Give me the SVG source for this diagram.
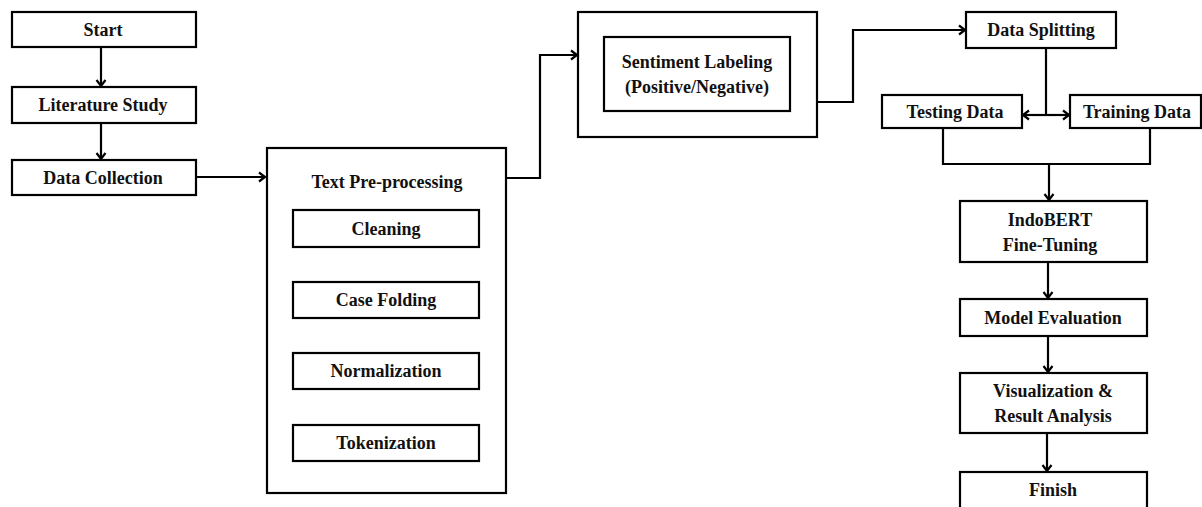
<svg xmlns="http://www.w3.org/2000/svg" width="1202" height="507" viewBox="0 0 1202 507">
<defs>
<marker id="ah" markerUnits="userSpaceOnUse" markerWidth="12" markerHeight="12" refX="9" refY="6" orient="auto">
<path d="M3,1.5 L9,6 L3,10.5" fill="none" stroke="#000" stroke-width="2.2"/>
</marker>
<style>
rect{fill:#fff;stroke:#000;stroke-width:2.2}
text{font-family:"Liberation Serif","Times New Roman",serif;font-weight:bold;font-size:18px;fill:#111;text-anchor:middle}
.c{fill:none;stroke:#000;stroke-width:2.2}
</style>
</defs>
<rect x="0" y="0" width="1202" height="507" style="stroke:none"/>
<g id="connectors">
<path class="c" d="M101,47 V86" marker-end="url(#ah)"/>
<path class="c" d="M101,123 V159" marker-end="url(#ah)"/>
<path class="c" d="M196,177 H265" marker-end="url(#ah)"/>
<path class="c" d="M506,178 H540 V55 H577" marker-end="url(#ah)"/>
<path class="c" d="M817,102 H853 V30 H965" marker-end="url(#ah)"/>
<path class="c" d="M1046,48 V115"/>
<path class="c" d="M1046,115 H1023" marker-end="url(#ah)"/>
<path class="c" d="M1046,115 H1069" marker-end="url(#ah)"/>
<path class="c" d="M943,128 V164 H1150 V128"/>
<path class="c" d="M1049,164 V200" marker-end="url(#ah)"/>
<path class="c" d="M1048,262 V298" marker-end="url(#ah)"/>
<path class="c" d="M1048,336 V372" marker-end="url(#ah)"/>
<path class="c" d="M1047,433 V471" marker-end="url(#ah)"/>
</g>
<g id="start"><rect x="12" y="12" width="184" height="35"/><text x="103" y="36">Start</text></g>
<g id="literature"><rect x="12" y="87" width="184" height="36"/><text x="103" y="111">Literature Study</text></g>
<g id="collection"><rect x="12" y="160" width="184" height="35"/><text x="103" y="184">Data Collection</text></g>
<g id="preprocessing">
<rect x="267" y="148" width="239" height="345"/>
<text x="387" y="188">Text Pre-processing</text>
<g id="cleaning"><rect x="293" y="210" width="186" height="37"/><text x="386" y="235">Cleaning</text></g>
<g id="casefolding"><rect x="293" y="282" width="186" height="36"/><text x="386" y="306">Case Folding</text></g>
<g id="normalization"><rect x="293" y="353" width="186" height="36"/><text x="386" y="377">Normalization</text></g>
<g id="tokenization"><rect x="293" y="425" width="186" height="36"/><text x="386" y="449">Tokenization</text></g>
</g>
<g id="labeling">
<rect x="578" y="12" width="239" height="125"/>
<rect x="604" y="37" width="186" height="74"/>
<text x="697" y="68">Sentiment Labeling</text>
<text x="697" y="93">(Positive/Negative)</text>
</g>
<g id="splitting"><rect x="966" y="12" width="150" height="36"/><text x="1041" y="36">Data Splitting</text></g>
<g id="testing"><rect x="882" y="95" width="140" height="33"/><text x="955" y="118">Testing Data</text></g>
<g id="training"><rect x="1070" y="95" width="131" height="33"/><text x="1137" y="118">Training Data</text></g>
<g id="indobert"><rect x="960" y="201" width="187" height="61"/><text x="1050" y="226">IndoBERT</text><text x="1050" y="251">Fine-Tuning</text></g>
<g id="evaluation"><rect x="960" y="299" width="187" height="37"/><text x="1053" y="324">Model Evaluation</text></g>
<g id="visualization"><rect x="960" y="373" width="187" height="60"/><text x="1053" y="397">Visualization &amp;</text><text x="1053" y="422">Result Analysis</text></g>
<g id="finish"><rect x="960" y="472" width="187" height="40"/><text x="1053" y="496">Finish</text></g>
</svg>
